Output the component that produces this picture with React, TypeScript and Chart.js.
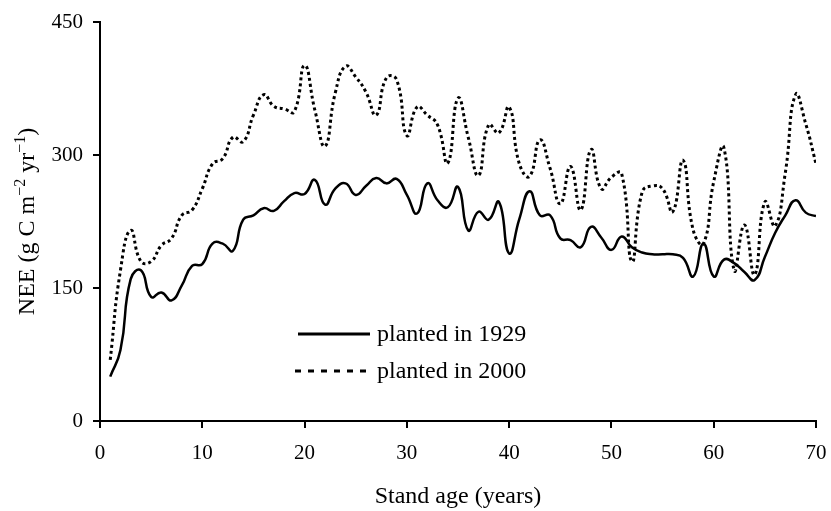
import React, { useEffect, useRef } from "react";
import { Chart, registerables } from "chart.js";

Chart.register(...registerables);

const years: number[] = Array.from({ length: 70 }, (_, i) => i + 1);

const planted1929: number[] = [
  50, 80, 160, 170, 140, 145, 136, 153, 175, 177,
  200, 200, 192, 227, 232, 240, 237, 248, 257, 256,
  272, 244, 262, 268, 255, 265, 274, 268, 273, 255,
  234, 268, 249, 241, 264, 215, 236, 227, 247, 189,
  228, 259, 232, 232, 206, 204, 196, 219, 207, 193,
  208, 196, 190, 188, 188, 188, 184, 163, 200, 163,
  182, 178, 168, 159, 185, 212, 232, 249, 235, 231,
];

const planted2000: number[] = [
  69, 170, 215, 180, 180, 198, 206, 232, 238, 262,
  290, 296, 320, 315, 345, 368, 355, 352, 349, 401,
  351, 310, 370, 400, 388, 371, 345, 387, 385, 322,
  354, 345, 334, 291, 364, 320, 277, 334, 325, 354,
  290, 276, 317, 285, 245, 287, 238, 306, 262, 275,
  279, 180, 258, 265, 262, 236, 294, 215, 200, 270,
  308, 170, 221, 165, 247, 220, 280, 368, 335, 290,
];

const seriesLabels: string[] = ["planted in 1929", "planted in 2000"];
const xTitle = "Stand age (years)";
const yTitleParts: { t: string; sup: boolean }[] = [
  { t: "NEE (g C m", sup: false },
  { t: "\u22122", sup: true },
  { t: " yr", sup: false },
  { t: "\u22121", sup: true },
  { t: ")", sup: false },
];

const FONT = "'Liberation Serif', 'Times New Roman', serif";
const TICK_FS = 21;
const FS = 24;

const overlayPlugin = {
  id: "overlay",
  afterDraw(chart: any) {
    const ctx = chart.ctx as CanvasRenderingContext2D;
    const area = chart.chartArea;
    ctx.save();
    ctx.fillStyle = "#000";
    ctx.strokeStyle = "#000";
    // x title
    ctx.font = `${FS}px ${FONT}`;
    ctx.textAlign = "center";
    ctx.textBaseline = "alphabetic";
    ctx.fillText(xTitle, (area.left + area.right) / 2, 503);

    // y title rotated with superscripts
    ctx.save();
    ctx.translate(34, (area.top + area.bottom) / 2);
    ctx.rotate(-Math.PI / 2);
    const supFS = 16;
    let total = 0;
    for (const p of yTitleParts) {
      ctx.font = `${p.sup ? supFS : FS}px ${FONT}`;
      total += ctx.measureText(p.t).width;
    }
    let x = -total / 2;
    ctx.textAlign = "left";
    for (const p of yTitleParts) {
      ctx.font = `${p.sup ? supFS : FS}px ${FONT}`;
      ctx.fillText(p.t, x, p.sup ? -9 : 0);
      x += ctx.measureText(p.t).width;
    }
    ctx.restore();

    // legend
    const rows = [
      { y: 334, x0: 298, x1: 370, dash: [] as number[] },
      { y: 371, x0: 295, x1: 368, dash: [6, 7] },
    ];
    ctx.font = `${FS}px ${FONT}`;
    ctx.textAlign = "left";
    ctx.textBaseline = "middle";
    rows.forEach((r, i) => {
      ctx.beginPath();
      ctx.lineWidth = 3;
      ctx.setLineDash(r.dash);
      ctx.moveTo(r.x0, r.y);
      ctx.lineTo(r.x1, r.y);
      ctx.stroke();
      ctx.setLineDash([]);
      ctx.fillText(seriesLabels[i], 377, r.y + 1);
    });
    ctx.restore();
  },
};

export default function App() {
  const ref = useRef<HTMLCanvasElement | null>(null);
  useEffect(() => {
    document.body.style.margin = "0";
    const canvas = ref.current!;
    const chart = new Chart(canvas, {
      type: "line",
      data: {
        datasets: [
          {
            label: seriesLabels[0],
            data: years.map((y, i) => ({ x: y, y: planted1929[i] })),
            borderColor: "#000",
            borderWidth: 2.5,
            pointRadius: 0,
            tension: 0.5,
            fill: false,
          },
          {
            label: seriesLabels[1],
            data: years.map((y, i) => ({ x: y, y: planted2000[i] })),
            borderColor: "#000",
            borderWidth: 3,
            borderDash: [3, 3],
            pointRadius: 0,
            tension: 0.5,
            fill: false,
          },
        ],
      },
      options: {
        animation: false,
        responsive: false,
        devicePixelRatio: 1,
        layout: { padding: { top: 22, right: 15, left: 0, bottom: 0 } },
        plugins: { legend: { display: false }, tooltip: { enabled: false } },
        scales: {
          x: {
            type: "linear",
            min: 0,
            max: 70,
            ticks: {
              stepSize: 10,
              color: "#000",
              font: { family: FONT, size: TICK_FS },
              padding: 13,
              maxRotation: 0,
            },
            grid: { drawOnChartArea: false, drawTicks: true, tickLength: 7, color: "#000", lineWidth: 2 },
            border: { color: "#000", width: 2 },
            afterFit: (s: any) => {
              s.height = 90;
              s.paddingRight = 0;
              s.paddingLeft = 0;
            },
          },
          y: {
            min: 0,
            max: 450,
            ticks: {
              stepSize: 150,
              color: "#000",
              font: { family: FONT, size: TICK_FS },
              padding: 10,
            },
            grid: { drawOnChartArea: false, drawTicks: true, tickLength: 7, color: "#000", lineWidth: 2 },
            border: { color: "#000", width: 2 },
            afterFit: (s: any) => {
              s.width = 100;
              s.paddingTop = 0;
              s.paddingBottom = 0;
            },
          },
        },
      },
      plugins: [overlayPlugin],
    });
    return () => chart.destroy();
  }, []);
  return (
    <div style={{ position: "absolute", left: 0, top: 0, width: 831, height: 511, background: "#fff" }}>
      <canvas ref={ref} width={831} height={511} />
    </div>
  );
}
